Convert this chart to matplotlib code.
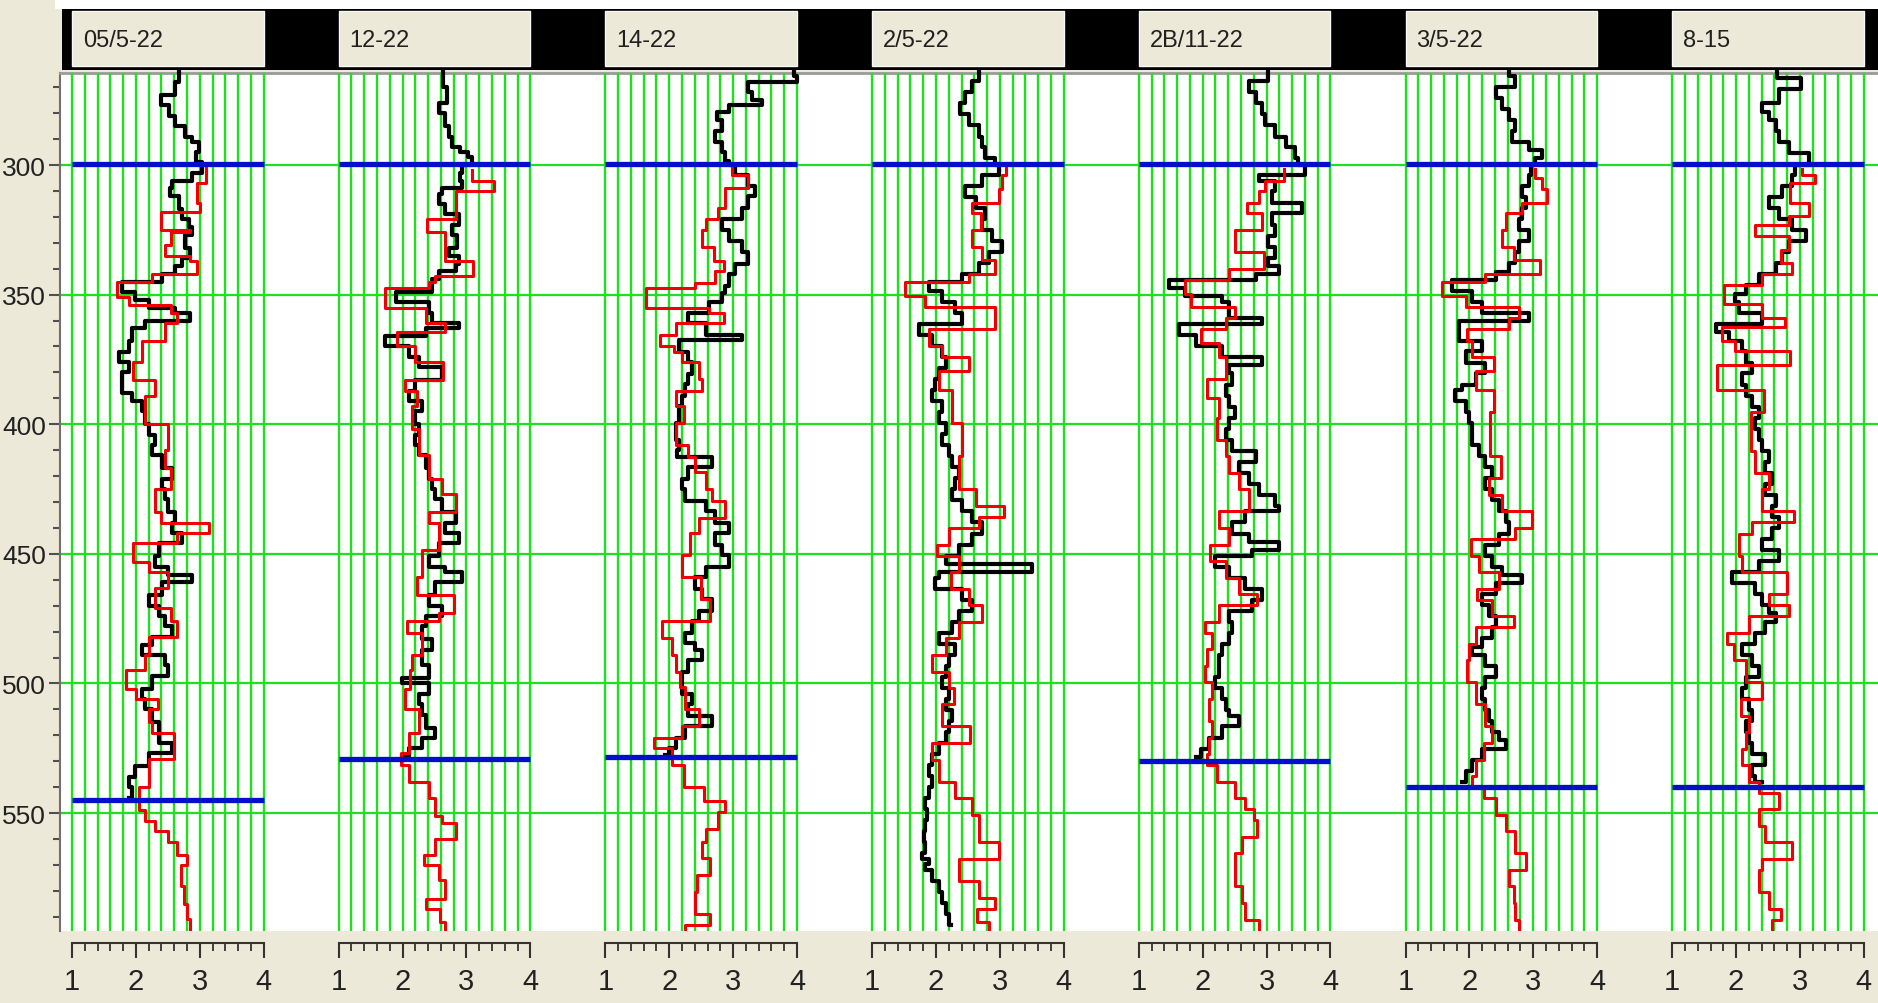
import matplotlib
matplotlib.use("Agg")
import numpy as np
import matplotlib.pyplot as plt
from matplotlib.patches import Rectangle
from matplotlib.ticker import MultipleLocator

# ---- data (depth, value) ----
labels = ['05/5-22', '12-22', '14-22', '2/5-22', '2B/11-22', '3/5-22', '8-15']
depth_top, depth_bottom = 264.5, 595.5
top_marker = 299.5
bottom_marker = [545, 529, 528.5, None, 530, 540, 540]

t1_black_depth = [264, 268, 273, 277, 281, 285, 289, 291, 295, 299, 303, 306, 309, 312, 317, 321, 324, 327, 332, 336,
                  339, 342, 345, 349, 352, 355, 357, 360, 363, 368, 372, 376, 380, 385, 388, 391, 395, 400, 404, 408,
                  412, 417, 421, 425, 429, 434, 438, 442, 446, 451, 455, 458, 461, 466, 470, 474, 478, 482, 485, 489,
                  493, 497, 502, 506, 510, 515, 519, 523, 527, 532, 536, 540, 544]
t1_black_val = [2.67, 2.61, 2.40, 2.52, 2.62, 2.77, 2.88, 2.99, 2.94, 3.03, 2.88, 2.57, 2.54, 2.67, 2.72, 2.83, 2.88, 2.77, 2.85, 2.72,
                2.62, 2.41, 1.78, 1.99, 2.20, 2.62, 2.85, 2.15, 1.94, 1.89, 1.73, 1.89, 1.78, 1.78, 1.94, 2.10, 2.15, 2.20, 2.30, 2.25,
                2.41, 2.57, 2.41, 2.46, 2.51, 2.62, 2.57, 2.72, 2.36, 2.30, 2.51, 2.88, 2.41, 2.20, 2.36, 2.46, 2.57, 2.25, 2.10, 2.46,
                2.51, 2.25, 2.10, 2.15, 2.25, 2.36, 2.36, 2.57, 2.20, 1.99, 1.89, 1.94, 1.89]
t1_red_top = [301, 307, 314.5, 318, 325, 326, 331, 335, 337, 342, 345, 351, 354, 357, 361, 368, 376, 383, 389, 400,
              410, 417, 425, 434, 438, 442, 446, 453, 457, 463, 471, 476, 482, 489, 495, 502, 506, 510, 515, 519,
              523, 529, 540, 549, 553, 557, 561, 566, 570, 578, 585, 591]
t1_red_val = [3.1, 2.95, 3.0, 2.4, 2.85, 2.55, 2.45, 2.85, 2.95, 2.25, 1.7, 1.9, 2.55, 2.65, 2.45, 2.1, 1.95, 2.3, 2.15, 2.5,
              2.45, 2.55, 2.3, 2.4, 3.15, 2.65, 1.95, 2.2, 2.5, 2.3, 2.55, 2.65, 2.2, 2.15, 1.85, 2.0, 2.35, 2.2, 2.25, 2.6,
              2.6, 2.2, 2.05, 2.15, 2.3, 2.5, 2.65, 2.8, 2.7, 2.75, 2.8, 2.85]

t2_black_depth = [263, 270, 276, 280, 285, 289, 293, 295, 297, 300, 303, 306, 309, 311, 315, 319, 323, 327, 332, 335,
                  338, 341, 344, 349, 353, 357, 361, 363, 366, 370, 374, 378, 383, 387, 391, 395, 400, 404, 408, 412,
                  417, 421, 425, 429, 434, 438, 442, 446, 451, 455, 457, 461, 466, 470, 474, 478, 483, 487, 493, 498,
                  500, 504, 508, 512, 517, 521, 525, 528]
t2_black_val = [2.64, 2.70, 2.57, 2.67, 2.72, 2.77, 2.90, 3.03, 3.09, 2.93, 2.90, 2.93, 2.62, 2.57, 2.67, 2.88, 2.77, 2.85, 2.72, 2.88,
                2.83, 2.57, 2.46, 1.89, 2.41, 2.46, 2.88, 2.36, 1.73, 2.10, 2.25, 2.62, 2.20, 2.10, 2.30, 2.20, 2.25, 2.20, 2.25, 2.36,
                2.41, 2.46, 2.51, 2.62, 2.83, 2.67, 2.88, 2.57, 2.41, 2.67, 2.93, 2.51, 2.41, 2.62, 2.36, 2.30, 2.46, 2.30, 2.41, 1.99,
                2.41, 2.25, 2.30, 2.36, 2.51, 2.30, 2.10, 1.99]
t2_red_top = [302, 306, 310, 321, 326, 337, 343, 345, 347.5, 355, 361, 364.5, 370, 376, 383, 387, 393, 402, 412, 421,
              427, 434, 438, 448.5, 459, 466, 473, 476, 480.5, 489, 495, 502, 510, 519, 527, 531.5, 538, 544, 551, 554,
              560, 566, 570, 576, 583, 587, 592]
t2_red_val = [3.09, 3.43, 2.83, 2.38, 2.67, 3.11, 2.51, 2.41, 1.73, 2.36, 2.67, 1.91, 2.20, 2.64, 2.04, 2.23, 2.15, 2.25, 2.41, 2.62,
              2.83, 2.41, 2.57, 2.30, 2.23, 2.80, 2.57, 2.07, 2.30, 2.15, 2.12, 2.04, 2.25, 2.10, 1.97, 2.10, 2.41, 2.51, 2.62, 2.83,
              2.51, 2.33, 2.57, 2.67, 2.36, 2.59, 2.67]

t3_black_depth = [263.5, 265.5, 268, 272, 275, 277, 279.5, 282.5, 287, 291, 295, 298.5, 300, 304, 308, 312, 316.5, 321, 325, 329.5,
                  333.5, 338, 342, 346.5, 349.5, 353, 357, 361, 365.5, 367.5, 372, 376, 380.5, 384.5, 389, 393, 399.5, 406, 410, 412.5,
                  416.5, 421, 425, 429.5, 433.5, 438, 442, 446.5, 450.5, 455, 459, 463.5, 467.5, 472, 476, 480.5, 484.5, 487, 491, 495.5,
                  499.5, 504, 508, 512.5, 516.5, 521, 525, 527.5]
t3_black_val = [3.95, 4.0, 3.24, 3.30, 3.45, 2.93, 2.75, 2.83, 2.72, 2.83, 2.88, 2.93, 3.03, 3.24, 3.35, 3.24, 3.14, 2.83, 2.93, 3.14,
                3.24, 3.03, 2.93, 2.88, 2.83, 2.62, 2.30, 2.57, 3.14, 2.15, 2.30, 2.36, 2.30, 2.25, 2.20, 2.15, 2.10, 2.15, 2.12, 2.67,
                2.30, 2.20, 2.25, 2.57, 2.72, 2.93, 2.72, 2.83, 2.93, 2.57, 2.41, 2.51, 2.67, 2.46, 2.36, 2.25, 2.41, 2.51, 2.30, 2.20,
                2.20, 2.36, 2.30, 2.67, 2.25, 2.10, 1.99, 1.94]
t3_red_top = [300.5, 304, 309, 316.5, 321, 325, 331.5, 337, 341, 345.5, 347.5, 355, 357, 361, 365.5, 370, 372, 376, 382.5, 387,
              393, 399.5, 408, 412.5, 418.5, 425, 429.5, 436, 442, 450.5, 459, 467.5, 476, 482.5, 489, 495.5, 501.5, 510, 516.5, 521,
              525, 531.5, 540, 545.5, 549.5, 556, 561, 567.5, 574, 580.5, 589, 593]
t3_red_val = [2.98, 3.24, 2.88, 2.77, 2.57, 2.51, 2.70, 2.85, 2.72, 2.41, 1.63, 2.62, 2.85, 2.10, 1.86, 2.07, 2.20, 2.46, 2.51, 2.10,
              2.23, 2.10, 2.30, 2.41, 2.57, 2.67, 2.88, 2.46, 2.33, 2.20, 2.49, 2.64, 1.89, 2.04, 2.10, 2.17, 2.25, 2.46, 2.20, 1.76,
              2.04, 2.23, 2.54, 2.88, 2.77, 2.57, 2.51, 2.64, 2.43, 2.41, 2.64, 2.25]

t4_black_depth = [263.4, 267.7, 271.9, 276.2, 280.4, 284.7, 289, 293.2, 297.4, 300, 303.8, 308.1, 312.3, 316.6, 320.9, 325.1, 329.4,
                  333.6, 337.9, 342.1, 345.3, 348.5, 352.8, 357, 361.3, 365.5, 369.8, 374.1, 378.3, 382.6, 386.8, 391.1, 395.3,
                  399.6, 403.8, 408.1, 412.4, 416.6, 420.9, 425.1, 429.4, 433.6, 437.9, 442.2, 446.4, 450.7, 453.9, 457, 459.2,
                  463.4, 467.7, 471.9, 476.2, 480.5, 484.7, 489, 493.2, 497.5, 501.7, 506, 510.2, 514.5, 518.8, 523, 527.3, 531.5,
                  535.8, 540, 544.3, 548.6, 552.8, 557.1, 561.3, 565.6, 567.7, 569.8, 572, 576.2, 580.5, 584.7, 589, 593.2]
t4_black_val = [2.67, 2.57, 2.46, 2.38, 2.51, 2.67, 2.72, 2.77, 2.93, 2.98, 2.72, 2.46, 2.62, 2.77, 2.72, 2.88, 3.03,
                2.83, 2.67, 2.41, 1.89, 2.10, 2.30, 2.41, 1.73, 1.94, 2.10, 2.15, 2.04, 1.99, 1.94, 2.10, 2.04,
                2.15, 2.10, 2.20, 2.25, 2.36, 2.30, 2.25, 2.41, 2.57, 2.72, 2.57, 2.36, 2.15, 3.50, 2.04, 1.99,
                2.41, 2.57, 2.36, 2.25, 2.04, 2.30, 2.20, 2.15, 2.10, 2.20, 2.15, 2.25, 2.20, 2.15, 2.04, 1.94, 1.89,
                1.94, 1.89, 1.83, 1.86, 1.83, 1.81, 1.83, 1.78, 1.89, 1.83, 1.94, 2.04, 2.10, 2.15, 2.20, 2.23]
t4_red_top = [300.6, 303.8, 309.2, 314.5, 318.7, 325.1, 331.5, 336.8, 342.1, 345.3, 350.6, 354.9, 363.4, 369.8, 374.1, 379.4,
              386.8, 399.6, 412.4, 425.1, 431.5, 435.8, 440, 446.4, 450.7, 457, 463.4, 469.8, 476.2, 482.6, 489, 495.4,
              501.7, 508.1, 516.6, 523, 529.4, 537.9, 544.3, 550.7, 561.3, 567.7, 576.2, 582.6, 586.9, 592.2]
t4_red_val = [3.09, 3.03, 2.98, 2.57, 2.70, 2.57, 2.72, 2.93, 2.51, 1.52, 1.83, 2.93, 1.89, 2.10, 2.51, 2.04,
              2.25, 2.41, 2.36, 2.62, 3.06, 2.67, 2.20, 2.02, 2.36, 2.23, 2.51, 2.72, 2.36, 2.15, 1.94, 2.20,
              2.28, 2.10, 2.54, 1.94, 2.04, 2.30, 2.57, 2.67, 2.98, 2.36, 2.67, 2.93, 2.64, 2.83]

t5_black_depth = [263.4, 267.7, 271.9, 276.2, 280.4, 284.7, 289, 293.2, 297.4, 300, 303.8, 306, 310.2, 314.5, 318.7, 323, 327.2,
                  331.5, 335.8, 338.9, 342.1, 344.3, 347.5, 350.6, 352.8, 357, 359.2, 361.3, 365.5, 369.8, 374.1, 377.2, 380.4,
                  384.7, 389, 393.2, 397.5, 401.7, 406, 410.2, 414.5, 418.7, 423, 427.3, 431.5, 433.6, 437.9, 442.2, 445.3,
                  448.5, 450.7, 454.9, 459.2, 463.4, 467.7, 471.9, 476.2, 480.5, 484.7, 489, 493.2, 497.5, 501.7, 506, 510.2,
                  512.4, 516.6, 520.9, 525.1, 528.3]
t5_black_val = [3.03, 2.72, 2.83, 2.93, 2.98, 3.14, 3.30, 3.45, 3.50, 3.61, 2.88, 3.14, 3.09, 3.56, 3.09, 3.14, 3.03,
                3.14, 3.03, 3.19, 2.83, 1.47, 1.73, 2.30, 2.41, 2.41, 2.93, 1.63, 1.89, 2.30, 2.93, 2.41, 2.46,
                2.36, 2.41, 2.51, 2.41, 2.36, 2.46, 2.83, 2.57, 2.72, 2.88, 3.14, 3.19, 2.67, 2.46, 2.72, 3.19,
                2.77, 2.20, 2.41, 2.67, 2.93, 2.77, 2.41, 2.46, 2.41, 2.30, 2.25, 2.25, 2.20, 2.30, 2.36, 2.41,
                2.57, 2.30, 2.10, 1.97, 1.89]
t5_red_top = [301.7, 306, 310.2, 314.5, 318.7, 325.1, 333.6, 340, 344.3, 349.6, 354.9, 359.2, 363.4, 368.7, 374.1, 382.6,
              390, 397.5, 406, 412.4, 418.7, 425.1, 433.6, 440, 446.4, 452.8, 459.2, 465.6, 469.8, 476.2, 480.5, 486.8,
              493.2, 499.6, 506, 514.5, 520.9, 527.3, 531.5, 537.9, 544.3, 548.6, 552.8, 559.2, 565.6, 578.3, 584.7, 591.1]
t5_red_val = [3.27, 2.98, 2.88, 2.70, 2.93, 2.51, 2.96, 2.41, 1.73, 1.81, 2.51, 2.36, 1.97, 2.25, 2.36, 2.07,
              2.25, 2.23, 2.36, 2.41, 2.57, 2.72, 2.25, 2.41, 2.12, 2.36, 2.57, 2.85, 2.25, 2.04, 2.15, 2.07,
              2.04, 2.15, 2.10, 2.15, 2.10, 2.07, 2.23, 2.51, 2.67, 2.80, 2.85, 2.62, 2.51, 2.62, 2.67, 2.88]

t6_black_depth = [263.4, 265.5, 269.8, 274, 278.3, 282.6, 286.8, 291.1, 294.3, 297.4, 300, 303.8, 308.1, 312.3, 316.6, 320.9,
                  325.1, 329.4, 333.6, 337.9, 341.1, 344.3, 348.5, 352.8, 357, 360.2, 363.4, 367.7, 371.9, 376.2, 380.4,
                  384.7, 386.8, 391.1, 395.3, 399.6, 403.8, 408.1, 412.4, 416.6, 420.9, 425.1, 429.4, 433.6, 437.9, 442.2,
                  446.4, 450.7, 454.9, 458.1, 461.3, 465.6, 469.8, 474.1, 478.3, 482.6, 485.8, 489, 493.2, 497.5, 501.7,
                  506, 510.2, 514.5, 518.8, 521.9, 525.1, 529.4, 533.7, 537.9]
t6_black_val = [2.62, 2.72, 2.41, 2.51, 2.62, 2.72, 2.67, 2.93, 3.14, 3.03, 2.96, 2.93, 2.83, 2.88, 2.83, 2.77,
                2.93, 2.77, 2.72, 2.62, 2.41, 1.73, 2.04, 2.20, 2.93, 1.83, 1.83, 2.20, 1.94, 2.25, 2.10,
                1.89, 1.78, 1.94, 1.99, 2.04, 2.04, 2.15, 2.25, 2.36, 2.25, 2.36, 2.46, 2.57, 2.62, 2.46,
                2.25, 2.36, 2.51, 2.83, 2.41, 2.20, 2.30, 2.41, 2.36, 2.20, 2.04, 2.25, 2.41, 2.25, 2.20,
                2.25, 2.30, 2.36, 2.46, 2.57, 2.20, 2.04, 1.94, 1.89]
t6_red_top = [301.7, 304.9, 309.2, 314.5, 318.7, 325.1, 331.5, 336.8, 342.1, 345.3, 350.6, 354.9, 359.2, 363.4, 367.7, 374.1,
              379.4, 386.8, 395.3, 412.4, 420.9, 427.3, 433.6, 440, 444.3, 450.7, 457, 463.4, 467.7, 474.1, 478.3, 484.7,
              491.1, 499.6, 508.1, 516.6, 523, 529.4, 535.8, 540, 544.3, 550.7, 557.1, 565.6, 572, 578.3, 584.7, 591.1]
t6_red_val = [3.03, 3.14, 3.22, 2.83, 2.57, 2.51, 2.70, 3.11, 2.25, 1.57, 1.94, 2.77, 2.62, 1.97, 2.04, 2.38,
              2.10, 2.38, 2.33, 2.49, 2.30, 2.51, 2.98, 2.72, 2.02, 2.15, 2.46, 2.12, 2.36, 2.70, 2.10, 1.99,
              1.97, 2.10, 2.25, 2.36, 2.23, 2.10, 2.04, 2.23, 2.41, 2.57, 2.72, 2.88, 2.62, 2.70, 2.72, 2.77]

t7_black_depth = [263.4, 266.6, 270.8, 276.2, 279.4, 282.6, 286.8, 291.1, 295.3, 300, 303.8, 308.1, 312.3, 316.6, 320.9, 325.1,
                  329.4, 333.6, 337.9, 342.1, 346.4, 349.6, 352.8, 357, 361.3, 364.5, 367.7, 371.9, 376.2, 380.4, 384.7,
                  389, 393.2, 397.5, 401.7, 406, 410.2, 414.5, 418.7, 423, 427.3, 431.5, 435.8, 440, 444.3, 448.5, 452.8,
                  457, 461.3, 465.6, 469.8, 473, 476.2, 480.5, 484.7, 489, 493.2, 497.5, 501.7, 506, 510.2, 514.5, 518.8,
                  523, 527.3, 531.5, 535.8, 537.9]
t7_black_val = [2.64, 3.01, 2.67, 2.41, 2.51, 2.62, 2.67, 2.83, 3.14, 2.93, 2.88, 2.72, 2.51, 2.67, 2.88, 3.09,
                2.83, 2.72, 2.62, 2.36, 2.15, 1.99, 2.04, 2.41, 1.68, 1.89, 2.10, 2.15, 2.25, 2.10, 2.15,
                2.25, 2.36, 2.30, 2.36, 2.41, 2.51, 2.46, 2.57, 2.46, 2.62, 2.57, 2.67, 2.57, 2.41, 2.67, 2.36,
                1.94, 2.30, 2.41, 2.51, 2.62, 2.46, 2.30, 2.10, 2.25, 2.36, 2.15, 2.10, 2.20, 2.25, 2.15, 2.20,
                2.25, 2.46, 2.25, 2.30, 2.41]
t7_red_top = [301.7, 303.8, 307, 314.5, 319.8, 323, 327.2, 332.6, 337.9, 342.1, 346.4, 353.8, 359.2, 362.4, 367.7, 371.9,
              377.2, 386.8, 395.3, 410.2, 418.7, 425.1, 433.6, 437.9, 442.2, 450.7, 457, 465.6, 469.8, 474.1, 480.5, 484.7,
              491.1, 499.6, 506, 512.4, 518.8, 525.1, 531.5, 537.9, 542.2, 548.6, 554.9, 561.3, 567.7, 572, 580.5, 586.9, 591.1]
t7_red_val = [3.03, 3.24, 2.85, 3.14, 2.83, 2.30, 2.83, 2.70, 2.88, 2.41, 1.81, 2.41, 2.77, 1.78, 1.99, 2.85,
              1.70, 2.43, 2.23, 2.30, 2.51, 2.41, 2.90, 2.25, 2.04, 2.10, 2.80, 2.51, 2.83, 2.20, 1.86, 1.97,
              2.15, 2.41, 2.07, 2.20, 2.15, 2.10, 2.20, 2.36, 2.67, 2.36, 2.46, 2.88, 2.41, 2.36, 2.51, 2.70, 2.57]

tracks = [
    (t1_black_depth, t1_black_val, t1_red_top, t1_red_val),
    (t2_black_depth, t2_black_val, t2_red_top, t2_red_val),
    (t3_black_depth, t3_black_val, t3_red_top, t3_red_val),
    (t4_black_depth, t4_black_val, t4_red_top, t4_red_val),
    (t5_black_depth, t5_black_val, t5_red_top, t5_red_val),
    (t6_black_depth, t6_black_val, t6_red_top, t6_red_val),
    (t7_black_depth, t7_black_val, t7_red_top, t7_red_val),
]

# ---- layout (pixels of the 1878x1004 picture) ----
W, H = 1878, 1004
def fx(p): return p / W
def fh(p): return p / H
def fy(p): return 1 - p / H

beige = '#ece9d8'
green = '#1ee01e'
font = ['Liberation Sans', 'DejaVu Sans']

fig = plt.figure(figsize=(W / 100, H / 100), dpi=100, facecolor=beige)

# white strip on top, black header band
fig.patches.append(Rectangle((fx(55), fy(10)), 1, fh(10), transform=fig.transFigure, facecolor='white', edgecolor='none'))
fig.patches.append(Rectangle((fx(62), fy(71)), 1, fh(61), transform=fig.transFigure, facecolor='black', edgecolor='none'))

plot_top, plot_bot = 74, 932
track_x0, track_step, track_w = 72, 266.7, 191.6

# background axes: depth axis and horizontal grid
bg = fig.add_axes([fx(60), fy(plot_bot), 1 - fx(60), fh(plot_bot - plot_top)])
bg.set_facecolor('white')
bg.set_xlim(0, 1)
bg.set_ylim(depth_bottom, depth_top)
bg.set_xticks([])
bg.yaxis.set_major_locator(MultipleLocator(50))
bg.yaxis.set_minor_locator(MultipleLocator(10))
for d in np.arange(300, 551, 50):
    bg.axhline(d, color=green, lw=1.6, zorder=1)
for s in ['right', 'bottom']:
    bg.spines[s].set_visible(False)
bg.spines['left'].set_color('#707070')
bg.spines['left'].set_linewidth(1.5)
bg.spines['top'].set_color('#9a9a9a')
bg.spines['top'].set_linewidth(2)
bg.tick_params(axis='y', which='major', length=8, width=1.5, color='#505050', labelsize=19, pad=2, labelcolor='#222222')
bg.tick_params(axis='y', which='minor', length=5, width=1.5, color='#505050')
for t in bg.get_yticklabels():
    t.set_family(font)

for i, (bd, bv, rt, rv) in enumerate(tracks):
    left = track_x0 + i * track_step

    # header box with the well name
    fig.patches.append(Rectangle((fx(left), fy(67)), fx(track_w), fh(55), transform=fig.transFigure,
                                 facecolor=beige, edgecolor='#f8f8f8', lw=1))
    fig.text(fx(left + 11), fy(41), labels[i], fontsize=17, family=font, color='#202020', va='center', ha='left')

    ax = fig.add_axes([fx(left), fy(plot_bot), fx(track_w), fh(plot_bot - plot_top)])
    ax.patch.set_alpha(0)
    ax.set_xlim(1, 4)
    ax.set_ylim(depth_bottom, depth_top)
    ax.set_xticks([])
    ax.set_yticks([])
    for s in ax.spines.values():
        s.set_visible(False)

    grid = np.round(np.arange(1, 4.001, 0.2), 2)
    ax.vlines(grid, depth_top, depth_bottom, color=green, lw=1.7, clip_on=False, zorder=1)

    n = min(len(bd), len(bv))
    ax.plot(bv[:n], bd[:n], color='black', lw=3.0, drawstyle='steps-pre', zorder=3, clip_on=False)
    m = min(len(rt), len(rv))
    ax.plot(list(rv[:m]) + [rv[m - 1]], list(rt[:m]) + [depth_bottom], color='#f00000', lw=2.2,
            drawstyle='steps-pre', zorder=4)

    ax.hlines(top_marker, 1, 4, color='#0010c8', lw=3.8, zorder=5, clip_on=False)
    if bottom_marker[i] is not None:
        ax.hlines(bottom_marker[i], 1, 4, color='#0010c8', lw=3.8, zorder=5, clip_on=False)

    # scale below the track
    sc = fig.add_axes([fx(left), fy(944), fx(track_w), fh(1)])
    sc.patch.set_alpha(0)
    sc.set_xlim(1, 4)
    sc.set_yticks([])
    for s in ['top', 'left', 'right']:
        sc.spines[s].set_visible(False)
    sc.spines['bottom'].set_color('#333333')
    sc.spines['bottom'].set_linewidth(1.5)
    sc.set_xticks([1, 2, 3, 4])
    sc.xaxis.set_minor_locator(MultipleLocator(0.2))
    sc.tick_params(axis='x', which='major', length=11, width=1.5, color='#333333', labelsize=21, pad=6,
                   labelcolor='#222222')
    sc.tick_params(axis='x', which='minor', length=6, width=1.3, color='#333333')
    for t in sc.get_xticklabels():
        t.set_family(font)

fig.savefig('out.png', dpi=100, facecolor=beige)
